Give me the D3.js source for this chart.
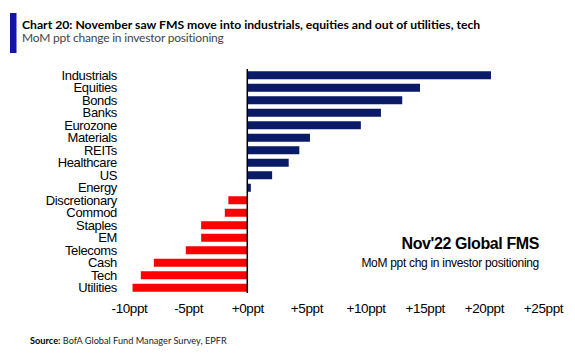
<!DOCTYPE html>
<html>
<head>
<meta charset="utf-8">
<script src="https://cdn.jsdelivr.net/npm/d3@7"></script>
<style>
  html, body { margin: 0; padding: 0; background: #fff; }
  svg { display: block; }
</style>
</head>
<body>
<svg id="chart" width="575" height="353"></svg>
<script>
const categories = ["Industrials","Equities","Bonds","Banks","Eurozone","Materials","REITs","Healthcare","US","Energy","Discretionary","Commod","Staples","EM","Telecoms","Cash","Tech","Utilities"];
const values = [20.6,14.6,13.1,11.3,9.6,5.3,4.4,3.5,2.1,0.3,-1.6,-1.9,-3.9,-3.9,-5.2,-7.9,-9.0,-9.7];
const tickValues = [-10,-5,0,5,10,15,20,25];
const tickLabels = ["-10ppt","-5ppt","+0ppt","+5ppt","+10ppt","+15ppt","+20ppt","+25ppt"];
const titleText = "Chart 20: November saw FMS move into industrials, equities and out of utilities, tech";
const subtitleText = "MoM ppt change in investor positioning";
const annoTitle = "Nov'22 Global FMS";
const annoSub = "MoM ppt chg in investor positioning";
const sourceLabel = "Source:";
const sourceText = " BofA Global Fund Manager Survey, EPFR";

const svg = d3.select("#chart");
const x = d3.scaleLinear().domain([-10, 25]).range([129, 543]);
const y = d3.scaleBand().domain(categories).range([69, 294]).paddingInner(0.36).paddingOuter(0.18);

// header
svg.append("rect").attr("x", 10).attr("y", 13).attr("width", 6.5).attr("height", 40).attr("fill", "#1414a8");
svg.append("text").attr("x", 22).attr("y", 28.5)
  .attr("font-family", "Lato, 'Open Sans', sans-serif").attr("font-weight", 700)
  .attr("font-size", 12.2).attr("fill", "#000").text(titleText);
svg.append("text").attr("x", 22).attr("y", 42)
  .attr("font-family", "Lato, 'Open Sans', sans-serif")
  .attr("font-size", 12).attr("letter-spacing", "-0.2px").attr("fill", "#444").text(subtitleText);

// bars
svg.append("g").selectAll("rect").data(categories).join("rect")
  .attr("x", (d, i) => x(Math.min(0, values[i])))
  .attr("y", d => y(d))
  .attr("width", (d, i) => Math.abs(x(values[i]) - x(0)))
  .attr("height", y.bandwidth())
  .attr("fill", (d, i) => values[i] >= 0 ? "#0a1a66" : "#ff0000");

// zero line
svg.append("line").attr("x1", x(0)).attr("x2", x(0)).attr("y1", 69).attr("y2", 293)
  .attr("stroke", "#000").attr("stroke-width", 1.5);

// category labels
const yAxis = d3.axisLeft(y).tickSize(0).tickPadding(0);
const gy = svg.append("g").attr("transform", "translate(117,0)").call(yAxis);
gy.select(".domain").remove();
gy.selectAll("text").attr("font-family", "'Liberation Sans', Arial, sans-serif")
  .attr("font-size", 13).attr("letter-spacing", "-0.35px").attr("fill", "#000").attr("dy", "0.36em");

// x axis labels
const xAxis = d3.axisBottom(x).tickValues(tickValues).tickSize(0).tickPadding(0)
  .tickFormat((d, i) => tickLabels[i]);
const gx = svg.append("g").attr("transform", "translate(0,303)").call(xAxis);
gx.select(".domain").remove();
gx.selectAll("text").attr("font-family", "'Liberation Sans', Arial, sans-serif")
  .attr("font-size", 13.5).attr("letter-spacing", "-0.4px").attr("fill", "#000").attr("dy", "0.71em");

// annotation
svg.append("text").attr("x", 539).attr("y", 249).attr("text-anchor", "end")
  .attr("font-family", "'Liberation Sans', Arial, sans-serif").attr("font-weight", 700)
  .attr("font-size", 16).attr("letter-spacing", "-0.4px").attr("fill", "#000").text(annoTitle);
svg.append("text").attr("x", 539).attr("y", 267).attr("text-anchor", "end")
  .attr("font-family", "'Liberation Sans', Arial, sans-serif")
  .attr("font-size", 12).attr("letter-spacing", "-0.3px").attr("fill", "#000").text(annoSub);

// source
const src = svg.append("text").attr("x", 30).attr("y", 344)
  .attr("font-family", "Lato, 'Open Sans', sans-serif").attr("font-size", 9.2).attr("fill", "#222");
src.append("tspan").attr("font-weight", 700).attr("fill", "#000").text(sourceLabel);
src.append("tspan").text(sourceText);
</script>
</body>
</html>
